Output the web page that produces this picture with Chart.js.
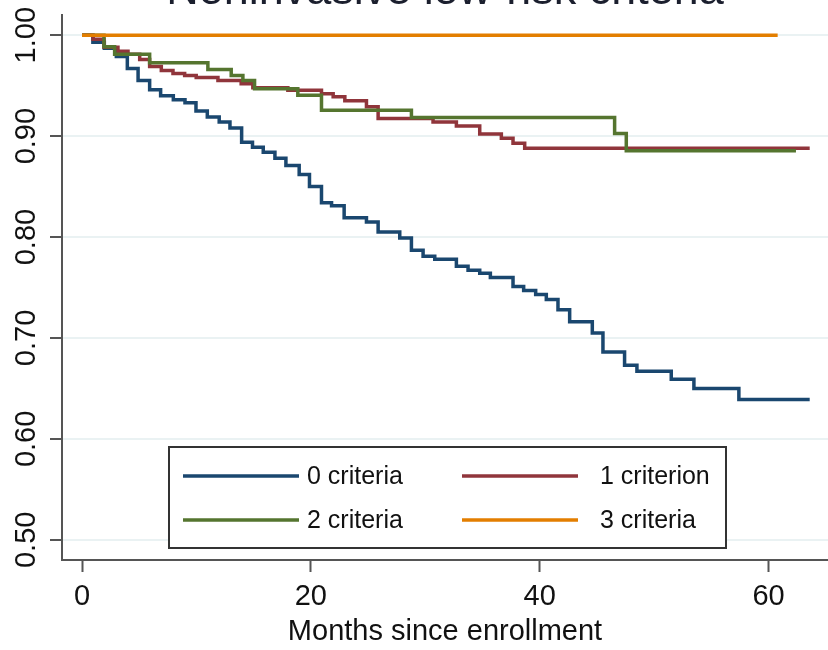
<!DOCTYPE html>
<html>
<head>
<meta charset="utf-8">
<script src="https://cdn.jsdelivr.net/npm/chart.js@4.4.1/dist/chart.umd.min.js"></script>
<style>
  html, body { margin: 0; padding: 0; background: #fff; }
  #wrap { width: 828px; height: 650px; }
</style>
</head>
<body>
<div id="wrap"><canvas id="km"></canvas></div>
<script>
// Kaplan-Meier curves: step times (months) and survival after each step
let chartTitle = 'Noninvasive low-risk criteria';
let xTitle = 'Months since enrollment';
let seriesLabels = ['0 criteria', '1 criterion', '2 criteria', '3 criteria'];
let seriesColors = ['#1a476f', '#90353b', '#55752f', '#e37e00'];

let times0 = [0, 0.95, 1.95, 3.0, 3.96, 4.9, 5.91, 6.87, 7.98, 9.0,
              9.96, 10.95, 11.99, 12.93, 13.95, 14.9, 15.84, 16.86, 17.82, 18.98,
              19.88, 20.93, 21.81, 22.91, 24.86, 25.88, 27.77, 28.79, 29.81, 30.83,
              32.72, 33.74, 34.76, 35.69, 37.67, 38.6, 39.65, 40.58, 41.6, 42.62,
              44.6, 45.53, 47.42, 48.5, 51.5, 53.48, 57.41, 63.6];
let surv0 = [1, 0.993, 0.987, 0.979, 0.967, 0.955, 0.946, 0.940, 0.936, 0.933,
             0.925, 0.919, 0.914, 0.908, 0.894, 0.889, 0.884, 0.878, 0.871, 0.862,
             0.850, 0.834, 0.831, 0.819, 0.815, 0.805, 0.799, 0.787, 0.781, 0.778,
             0.771, 0.767, 0.764, 0.760, 0.751, 0.747, 0.743, 0.738, 0.728, 0.716,
             0.705, 0.686, 0.673, 0.667, 0.659, 0.650, 0.639, 0.639];

let times1 = [0, 0.96, 1.92, 3.14, 4.02, 5.04, 5.91, 6.93, 7.95, 8.97,
              9.98, 11.88, 13.91, 14.93, 17.99, 20.93, 21.95, 22.97, 24.86, 25.88,
              30.68, 32.72, 34.76, 36.65, 37.67, 38.69, 63.6];
let surv1 = [1, 0.996, 0.988, 0.984, 0.981, 0.976, 0.969, 0.965, 0.962, 0.960,
             0.958, 0.955, 0.952, 0.948, 0.9455, 0.942, 0.939, 0.935, 0.929, 0.9175,
             0.914, 0.910, 0.902, 0.898, 0.893, 0.888, 0.888];

let times2 = [0, 1.92, 2.85, 5.91, 11.0, 13.04, 14.06, 15.08, 18.86, 20.93, 28.79, 46.55, 47.57, 62.4];
let surv2 = [1, 0.9885, 0.981, 0.9726, 0.966, 0.960, 0.955, 0.947, 0.9406, 0.9257, 0.9185, 0.9026, 0.8855, 0.8855];

let times3 = [0, 60.8];
let surv3 = [1, 1];

let xTickValues = [0, 20, 40, 60];
let yTickValues = [0.5, 0.6, 0.7, 0.8, 0.9, 1.0];

let font = '"Liberation Sans", Arial, sans-serif';

function toPoints(times, surv) {
    return times.map(function (t, i) { return { x: t, y: surv[i] }; });
}

let allTimes = [times0, times1, times2, times3];
let allSurv = [surv0, surv1, surv2, surv3];

let datasets = seriesLabels.map(function (label, i) {
    return {
        label: label,
        data: toPoints(allTimes[i], allSurv[i]),
        borderColor: seriesColors[i],
        borderWidth: 3.5,
        stepped: 'before',      // hold the previous value, drop at the event time
        pointRadius: 0,
        fill: false,
        order: seriesLabels.length - i   // first series drawn first, last on top
    };
});

/* title sits mostly above the canvas, as in the reference */
let topTitle = {
    id: 'topTitle',
    afterDraw: function (chart) {
        let ctx = chart.ctx;
        let area = chart.chartArea;
        ctx.save();
        ctx.font = '45px ' + font;
        ctx.fillStyle = '#1b1f2e';
        ctx.textAlign = 'center';
        ctx.textBaseline = 'alphabetic';
        ctx.fillText(chartTitle, (area.left + area.right) / 2, 4);
        ctx.restore();
    }
};

/* y tick labels turned 90 degrees, Stata style */
let yLabels = {
    id: 'yLabels',
    afterDraw: function (chart) {
        let ctx = chart.ctx;
        let y = chart.scales.y;
        ctx.save();
        ctx.font = '29px ' + font;
        ctx.fillStyle = '#111';
        ctx.textAlign = 'center';
        ctx.textBaseline = 'middle';
        y.ticks.forEach(function (t) {
            let py = y.getPixelForValue(t.value);
            ctx.save();
            ctx.translate(27, py);
            ctx.rotate(-Math.PI / 2);
            ctx.fillText(t.value.toFixed(2), 0, 0);
            ctx.restore();
        });
        ctx.restore();
    }
};

/* legend in a framed box inside the plot region */
let boxLegend = {
    id: 'boxLegend',
    afterDatasetsDraw: function (chart) {
        let ctx = chart.ctx;
        let box = { x: 169, y: 447, w: 557, h: 101 };
        let lineX = [183, 462];
        let textX = [307, 600];
        let rowY = [476, 520];
        ctx.save();
        ctx.fillStyle = '#fff';
        ctx.fillRect(box.x, box.y, box.w, box.h);
        ctx.strokeStyle = '#333';
        ctx.lineWidth = 2;
        ctx.strokeRect(box.x, box.y, box.w, box.h);
        ctx.font = '25px ' + font;
        ctx.textBaseline = 'middle';
        ctx.textAlign = 'left';
        chart.data.datasets.forEach(function (ds, i) {
            let col = i % 2, row = Math.floor(i / 2);
            ctx.strokeStyle = ds.borderColor;
            ctx.lineWidth = 3.5;
            ctx.beginPath();
            ctx.moveTo(lineX[col], rowY[row]);
            ctx.lineTo(lineX[col] + 116, rowY[row]);
            ctx.stroke();
            ctx.fillStyle = '#111';
            ctx.fillText(ds.label, textX[col], rowY[row] + 1);
        });
        ctx.restore();
    }
};

new Chart(document.getElementById('km'), {
    type: 'line',
    data: { datasets: datasets },
    plugins: [topTitle, yLabels, boxLegend],
    options: {
        responsive: true,
        maintainAspectRatio: false,
        animation: false,
        layout: { padding: { top: 15, right: 0, bottom: 0, left: 0 } },
        plugins: {
            legend: { display: false },
            title: { display: false },
            tooltip: { enabled: false }
        },
        scales: {
            x: {
                type: 'linear',
                min: -1.75,
                max: 65.2,
                afterBuildTicks: function (scale) {
                    scale.ticks = xTickValues.map(function (v) { return { value: v }; });
                },
                afterFit: function (scale) { scale.height = 90; },
                grid: {
                    drawOnChartArea: false,
                    tickLength: 12,
                    tickColor: '#555',
                    tickWidth: 2
                },
                border: { color: '#555', width: 2 },
                ticks: {
                    font: { family: font, size: 29 },
                    color: '#111',
                    padding: 8,
                    maxRotation: 0
                },
                title: {
                    display: true,
                    text: xTitle,
                    font: { family: font, size: 29 },
                    color: '#111',
                    padding: { top: 0, bottom: 1 }
                }
            },
            y: {
                min: 0.48,
                max: 1.02,
                afterBuildTicks: function (scale) {
                    scale.ticks = yTickValues.map(function (v) { return { value: v }; });
                },
                afterFit: function (scale) { scale.width = 62; },
                grid: {
                    color: '#eaf2f3',
                    lineWidth: 2,
                    tickLength: 12,
                    tickColor: '#555',
                    tickWidth: 2
                },
                border: { color: '#555', width: 2 },
                ticks: { display: false }
            }
        }
    }
});
</script>
</body>
</html>
